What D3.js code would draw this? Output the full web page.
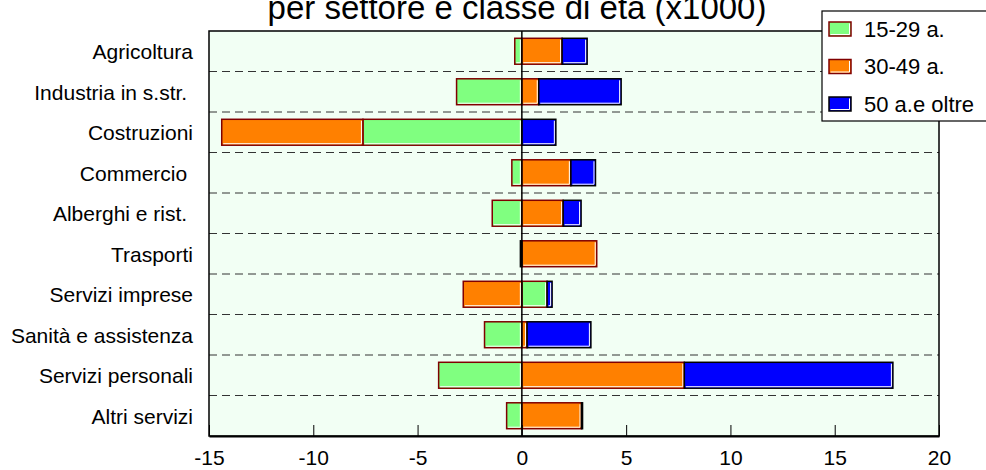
<!DOCTYPE html>
<html>
<head>
<meta charset="utf-8">
<script src="https://cdn.jsdelivr.net/npm/d3@7"></script>
<style>
  body { margin: 0; background: #fff; }
  svg { display: block; font-family: "Liberation Sans", Arial, sans-serif; }
</style>
</head>
<body>
<svg id="chart" width="986" height="470"></svg>
<script>
// Sectors (top to bottom) and employment change by age class, thousands
const categories = ["Agricoltura", "Industria in s.str. ", "Costruzioni", "Commercio ",
  "Alberghi e rist. ", "Trasporti", "Servizi imprese", "Sanità e assistenza",
  "Servizi personali", "Altri servizi"];
const age15to29 = [-0.34, -3.13, -7.62, -0.48, -1.42, 0.00, 1.21, -1.79, -3.99, -0.73];
const age30to49 = [1.93, 0.81, -6.77, 2.35, 1.98, 3.59, -2.81, 0.25, 7.79, 2.86];
const age50plus = [1.20, 3.95, 1.63, 1.18, 0.86, -0.07, 0.24, 3.06, 10.00, 0.05];
const seriesNames = ["15-29 a.", "30-49 a.", "50 a.e oltre"];
const xTicks = [-15, -10, -5, 0, 5, 10, 15, 20];
const titleText = "per settore e classe di età (x1000)";

const fills = ["#80ff80", "#ff8000", "#0000ff"];
const edges = ["#800000", "#800000", "#000000"];
const keys = ["a", "b", "c"];

const rows = categories.map((c, i) => ({ cat: c, a: age15to29[i], b: age30to49[i], c: age50plus[i] }));
const stacked = d3.stack().keys(keys).offset(d3.stackOffsetDiverging)(rows);

const svg = d3.select("#chart");
const plotL = 209, plotR = 939, plotT = 31, plotB = 436;

const x = d3.scaleLinear().domain([-15, 20]).range([plotL, plotR]);
const y = d3.scaleBand().domain(categories).range([plotT, plotB])
  .paddingInner(0.36).paddingOuter(0.18);

// title (second line of the heading)
svg.append("text")
  .attr("x", 517).attr("y", 19)
  .attr("text-anchor", "middle")
  .attr("font-size", 33)
  .attr("fill", "#000")
  .text(titleText);

// plot background
svg.append("rect")
  .attr("x", plotL).attr("y", plotT)
  .attr("width", plotR - plotL).attr("height", plotB - plotT)
  .attr("fill", "#f2fff4");

// dashed separators between sectors
const seps = categories.slice(1).map((c, i) => y.range()[0] + (i + 1) * y.step());
svg.append("g").selectAll("line").data(seps).join("line")
  .attr("x1", plotL).attr("x2", plotR)
  .attr("y1", d => d).attr("y2", d => d)
  .attr("stroke", "#333").attr("stroke-width", 1)
  .attr("stroke-dasharray", "8,5");

// stacked bars
function drawBox(g, x0, y0, w, h, fill, edge) {
  g.append("rect")
    .attr("x", x0).attr("y", y0).attr("width", w).attr("height", h)
    .attr("fill", fill).attr("stroke", edge).attr("stroke-width", 1.5);
  if (w > 4) {
    g.append("polyline")
      .attr("points", `${x0 + 1.5},${y0 + h - 1.5} ${x0 + w - 1.5},${y0 + h - 1.5} ${x0 + w - 1.5},${y0 + 1.5}`)
      .attr("fill", "none").attr("stroke", "#fff").attr("stroke-width", 1);
  }
}

const barsG = svg.append("g");
stacked.forEach((series, si) => {
  series.forEach(d => {
    const x0 = x(Math.min(d[0], d[1]));
    const x1 = x(Math.max(d[0], d[1]));
    if (x1 - x0 <= 0) return;
    drawBox(barsG, x0, y(d.data.cat), x1 - x0, y.bandwidth(), fills[si], edges[si]);
  });
});

// zero line
svg.append("line")
  .attr("x1", x(0)).attr("x2", x(0))
  .attr("y1", plotT).attr("y2", plotB)
  .attr("stroke", "#000").attr("stroke-width", 1.5);

// frame
svg.append("rect")
  .attr("x", plotL).attr("y", plotT)
  .attr("width", plotR - plotL).attr("height", plotB - plotT)
  .attr("fill", "none").attr("stroke", "#000").attr("stroke-width", 1.5);

// x axis with inward ticks
const axis = svg.append("g")
  .attr("transform", `translate(0,${plotB})`)
  .call(d3.axisBottom(x).tickValues(xTicks).tickSize(-11).tickSizeOuter(0)
    .tickPadding(14).tickFormat(d => String(d)));
axis.select(".domain").attr("stroke", "#000").attr("stroke-width", 2);
axis.selectAll(".tick line").attr("stroke", "#000").attr("stroke-width", 1);
axis.selectAll(".tick text")
  .attr("font-size", 21).attr("font-family", "Liberation Sans, Arial, sans-serif")
  .attr("fill", "#000");

// sector labels
svg.append("g").selectAll("text").data(categories).join("text")
  .attr("x", 193)
  .attr("y", d => y(d) + y.bandwidth() / 2 + 8)
  .attr("text-anchor", "end")
  .attr("font-size", 21)
  .style("white-space", "pre")
  .attr("fill", "#000")
  .text(d => d);

// legend
const lg = svg.append("g");
lg.append("rect")
  .attr("x", 822).attr("y", 11).attr("width", 170).attr("height", 110)
  .attr("fill", "#fff").attr("stroke", "#000").attr("stroke-width", 1.2);
seriesNames.forEach((name, i) => {
  drawBox(lg, 829, 22 + i * 37.5, 22, 14, fills[i], edges[i]);
  lg.append("text")
    .attr("x", 864).attr("y", 36.5 + i * 37.5)
    .attr("font-size", 22)
    .attr("fill", "#000")
    .text(name);
});
</script>
</body>
</html>
